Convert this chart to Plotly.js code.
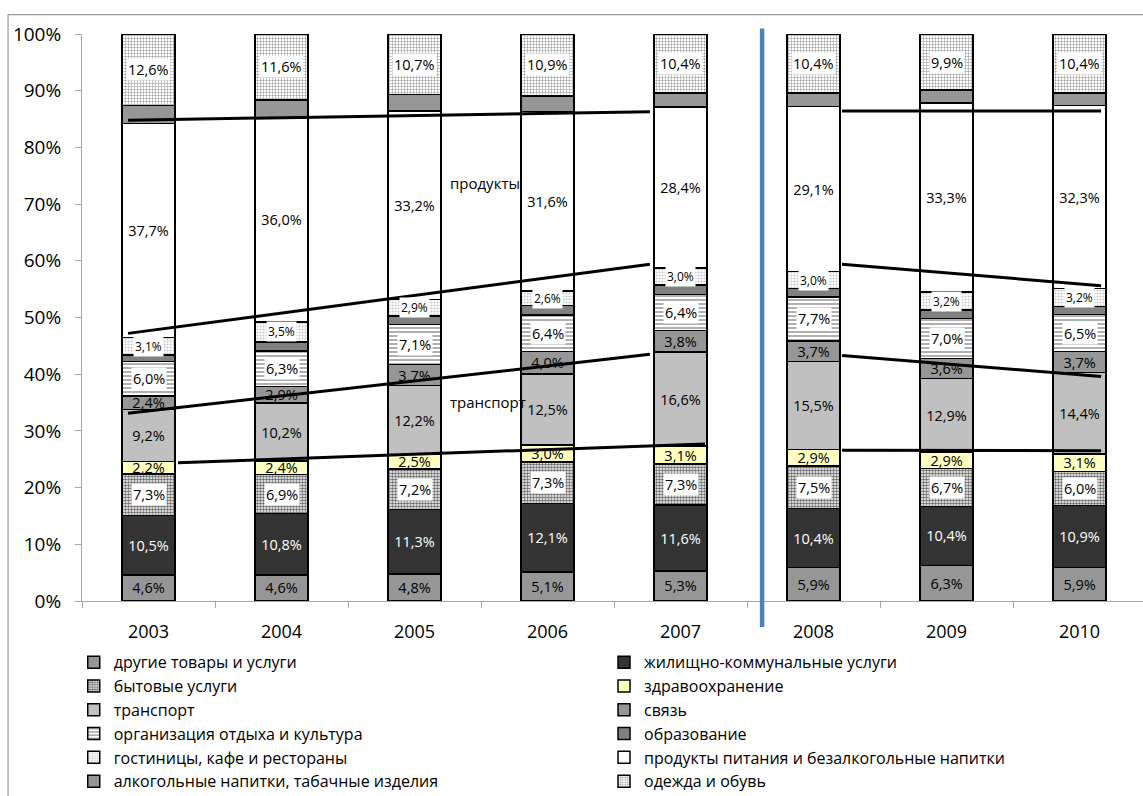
<!DOCTYPE html>
<html>
<head>
<meta charset="utf-8">
<script src="https://cdn.plot.ly/plotly-3.0.1.min.js"></script>
<style>html,body{margin:0;padding:0;background:#fff;}#chart{width:1143px;height:796px;}</style>
</head>
<body>
<div id="chart"></div>
<script>
// ---- data (shares of consumer spending, %) ----
const years = ['2003','2004','2005','2006','2007','2008','2009','2010'];
const other         = [4.6, 4.6, 4.8, 5.1, 5.3, 5.9, 6.3, 5.9];
const housing       = [10.5, 10.8, 11.3, 12.1, 11.6, 10.4, 10.4, 10.9];
const household     = [7.3, 6.9, 7.2, 7.3, 7.3, 7.5, 6.7, 6.0];
const health        = [2.2, 2.4, 2.5, 3.0, 3.1, 2.9, 2.9, 3.1];
const transport     = [9.2, 10.2, 12.2, 12.5, 16.6, 15.5, 12.9, 14.4];
const communication = [2.4, 2.9, 3.7, 4.0, 3.8, 3.7, 3.6, 3.7];
const recreation    = [6.0, 6.3, 7.1, 6.4, 6.4, 7.7, 7.0, 6.5];
const education     = [1.2, 1.6, 1.5, 1.7, 1.6, 1.5, 1.5, 1.4];
const hotels        = [3.1, 3.5, 2.9, 2.6, 3.0, 3.0, 3.2, 3.2];
const food          = [37.7, 36.0, 33.2, 31.6, 28.4, 29.1, 33.3, 32.3];
const alcohol       = [3.2, 3.2, 2.9, 2.8, 2.5, 2.4, 2.3, 2.2];
const clothing      = [12.6, 11.6, 10.7, 10.9, 10.4, 10.4, 9.9, 10.4];

const seriesNames = [
  'другие товары и услуги', 'жилищно-коммунальные услуги',
  'бытовые услуги', 'здравоохранение',
  'транспорт', 'связь',
  'организация отдыха и культура', 'образование',
  'гостиницы, кафе и рестораны', 'продукты питания и безалкогольные напитки',
  'алкогольные напитки, табачные изделия', 'одежда и обувь'
];
const seriesValues = [other, housing, household, health, transport, communication,
                      recreation, education, hotels, food, alcohol, clothing];

// hand-drawn guide lines of the original (category index / percent)
const guideLines = [
  [-0.154, 84.8, 3.77, 86.3], [-0.154, 47.2, 3.77, 59.4],
  [-0.154, 33.1, 3.77, 43.5], [0.222, 24.4, 4.184, 27.7],
  [5.214, 86.4, 7.162, 86.4], [5.214, 59.4, 7.162, 55.6],
  [5.214, 43.3, 7.162, 39.6], [5.214, 26.6, 7.162, 26.5]
];
const notes = [{text:'продукты', x:2.53, y:73.7}, {text:'транспорт', x:2.55, y:35.1}];

// ---- styles ----
const FONT = 'Open Sans, sans-serif';
const styles = [
  {color:'#969696'},
  {color:'#333333', txt:'#ffffff'},
  {color:'#ffffff', pat:{shape:'.', fgcolor:'#6a6a6a', bgcolor:'#ffffff', size:3, solidity:0.55}, box:true},
  {color:'#ffffc0'},
  {color:'#c0c0c0'},
  {color:'#969696'},
  {color:'#ffffff', pat:{shape:'-', fgcolor:'#b0b0b0', bgcolor:'#ffffff', size:4, solidity:0.5}, box:true},
  {color:'#808080', nolabel:true},
  {color:'#ffffff', pat:{shape:'.', fgcolor:'#c8c8c8', bgcolor:'#ffffff', size:3, solidity:0.4}, box:true, small:true},
  {color:'#ffffff'},
  {color:'#969696', nolabel:true},
  {color:'#ffffff', pat:{shape:'+', fgcolor:'#8a8a8a', bgcolor:'#ffffff', size:3, solidity:0.3}, box:true}
];

const fmt = v => v.toFixed(1).replace('.', ',') + '%';

const traces = [];
const annotations = [];
const cum = years.map(() => 0);
seriesValues.forEach((vals, si) => {
  const st = styles[si];
  const marker = {color: st.color, line: {color:'#000000', width:1.5}};
  if (st.pat) marker.pattern = st.pat;
  const useBarText = !st.box && !st.nolabel;
  traces.push({
    type:'bar', name: seriesNames[si], x: years, y: vals,
    legend: (si % 2 === 0) ? 'legend' : 'legend2',
    marker: marker,
    text: useBarText ? vals.map(fmt) : undefined,
    textposition: useBarText ? 'inside' : 'none',
    insidetextanchor: 'middle', textangle: 0, constraintext: 'none',
    insidetextfont: {family: FONT, size: 14.5, color: st.txt || '#000000'},
    hoverinfo: 'name+y'
  });
  if (st.box) {
    vals.forEach((v, i) => {
      annotations.push({
        x: i, y: cum[i] + v / 2, xref:'x', yref:'y', text: fmt(v), showarrow:false,
        bgcolor:'#ffffff', borderpad: 1,
        font: {family: FONT, size: st.small ? 12 : 14.5, color:'#000000'}
      });
    });
  }
  vals.forEach((v, i) => { cum[i] += v; });
});

notes.forEach(n => annotations.push({x:n.x, y:n.y, xref:'x', yref:'y', text:n.text, showarrow:false,
  font:{family:FONT, size:15, color:'#000000'}}));

const shapes = guideLines.map(g => ({type:'line', xref:'x', yref:'y', x0:g[0], y0:g[1], x1:g[2], y1:g[3],
  line:{color:'#000000', width:3}}));
// divider between 2007 and 2008
shapes.push({type:'line', xref:'paper', yref:'paper', x0:0.641, x1:0.641, y0:1.0097, y1:-0.0458,
  line:{color:'#4f81bd', width:4.5}});
// outer chart frame
shapes.push({type:'rect', xref:'paper', yref:'paper', x0:-0.0697, x1:1.01, y0:1.034, y1:-0.35,
  line:{color:'#9a9a9a', width:1.2}, fillcolor:'rgba(0,0,0,0)'});

const legendCommon = {orientation:'v', traceorder:'normal', xanchor:'left', yanchor:'top',
  font:{family:FONT, size:16, color:'#000000'}, bgcolor:'rgba(0,0,0,0)', itemclick:false,
  tracegroupgap:0};

const layout = {
  width:1143, height:796,
  margin:{l:82, r:0, t:33.5, b:195, autoexpand:false},
  paper_bgcolor:'#ffffff', plot_bgcolor:'#ffffff',
  barmode:'stack', bargap:0.6,
  font:{family:FONT, color:'#000000'},
  showlegend:true,
  legend: Object.assign({}, legendCommon, {x:-0.0078, y:-0.078}),
  legend2: Object.assign({}, legendCommon, {x:0.492, y:-0.078}),
  xaxis:{type:'category', range:[-0.5, 7.477], showline:true, linecolor:'#a6a6a6', linewidth:1,
    ticks:'outside', tickson:'boundaries', ticklen:6, tickcolor:'#a6a6a6',
    showgrid:false, zeroline:false, ticklabelstandoff:14,
    tickfont:{family:FONT, size:18, color:'#000000'}},
  yaxis:{range:[0,100], dtick:10, ticksuffix:'%', showline:true, linecolor:'#a6a6a6', linewidth:1,
    ticks:'outside', ticklen:6, tickcolor:'#a6a6a6', showgrid:false, zeroline:false,
    ticklabelstandoff:10, tickfont:{family:FONT, size:19, color:'#000000'}},
  annotations: annotations,
  shapes: shapes
};

Plotly.newPlot('chart', traces, layout, {displayModeBar:false, staticPlot:true});
</script>
</body>
</html>
